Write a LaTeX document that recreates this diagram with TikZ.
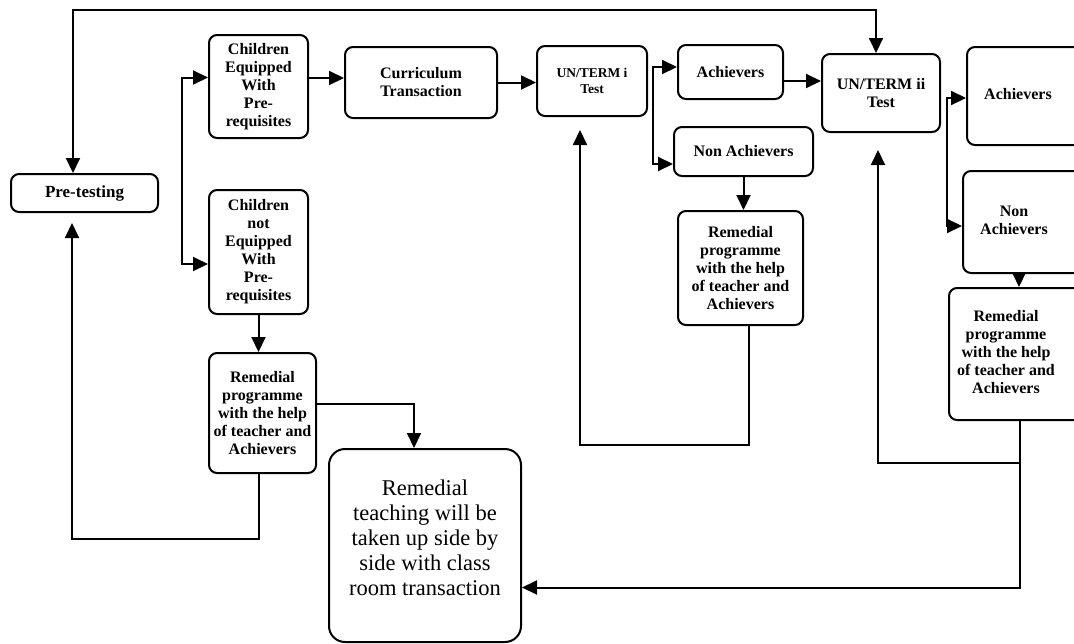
\documentclass[tikz,border=0pt]{standalone}
\usepackage{fontspec}
\setmainfont{Liberation Serif}
\usetikzlibrary{arrows.meta}

\newcommand{\rightspill}[2]{\begin{tabular}{@{}c@{}}#2\end{tabular}\hspace*{#1}}

\begin{document}
\begin{tikzpicture}[x=1pt,y=-1pt]
    \pgfmathsetmacro{\linewd}{2}
    \pgfmathsetmacro{\boxradius}{8}
    \pgfmathsetmacro{\bigradius}{16}
    \providecommand{\boxfont}{\fontsize{16}{18}\selectfont\bfseries}
    \providecommand{\testfont}{\fontsize{13.5}{16}\selectfont\bfseries}
    \providecommand{\bigfont}{\fontsize{22.5}{25}\selectfont}
    \tikzset{
      flowbox/.style={draw, line width=\linewd pt, rounded corners=\boxradius pt, align=center, inner sep=2pt, anchor=north west, font=\boxfont},
      flowarrow/.style={line width=\linewd pt, -{Triangle[length=15pt,width=14pt]}},
      flowfork/.style={line width=\linewd pt, {Triangle[length=15pt,width=14pt]}-{Triangle[length=15pt,width=14pt]}}
    }
    \useasboundingbox (0,0) rectangle (1074,643);
    \clip (0,0) rectangle (1074,643);
    % left part
    \node[flowbox, minimum width=147pt, minimum height=38pt, font=\fontsize{17}{19}\selectfont\bfseries] (pretest) at (10,173) {Pre-testing};
    \node[flowbox, minimum width=99pt, minimum height=103pt] (equip) at (208,34) {Children\\Equipped\\With\\Pre-\\requisites};
    \node[flowbox, minimum width=99pt, minimum height=124pt] (notequip) at (208,189) {Children\\not\\Equipped\\With\\Pre-\\requisites};
    \node[flowbox, minimum width=107pt, minimum height=120pt] (remedy0) at (208,352) {Remedial\\programme\\with the help\\of teacher and\\Achievers};
    \node[flowbox, minimum width=192pt, minimum height=193pt, rounded corners=\bigradius pt, font=\bigfont] (teach) at (328,448) {Remedial\\teaching will be\\taken up side by\\side with class\\room transaction\\[-9pt]};
    \node[flowbox, minimum width=152pt, minimum height=71pt] (curric) at (344,46) {Curriculum\\Transaction};
    % first term
    \node[flowbox, minimum width=110pt, minimum height=70pt, font=\testfont] (term1) at (536,45) {UN/TERM i\\Test};
    \node[flowbox, minimum width=105pt, minimum height=54pt] (ach1) at (677,44) {Achievers};
    \node[flowbox, minimum width=139pt, minimum height=49pt] (nonach1) at (673,126) {Non Achievers};
    \node[flowbox, minimum width=125pt, minimum height=114pt] (remedy1) at (677,210) {Remedial\\programme\\with the help\\of teacher and\\Achievers};
    % second term
    \node[flowbox, minimum width=118pt, minimum height=78pt] (term2) at (821,53) {UN/TERM ii\\Test};
    \node[flowbox, minimum width=140pt, minimum height=98pt] (ach2) at (966,46) {\rightspill{38pt}{Achievers}};
    \node[flowbox, minimum width=140pt, minimum height=102pt] (nonach2) at (962,170) {\rightspill{38pt}{Non\\Achievers}};
    \node[flowbox, minimum width=150pt, minimum height=132pt] (remedy2) at (948,287) {\rightspill{36pt}{Remedial\\programme\\with the help\\of teacher and\\Achievers}};
    \coordinate (topline) at (0,10);
    \coordinate (loop0) at (72,539);
    \coordinate (loop1) at (580,445);
    \coordinate (loop2) at (878,463);
    % connectors
    \draw[flowfork] ([xshift=-11.5pt]pretest.north) -- ([xshift=-11.5pt]pretest.north |- topline) -| ([xshift=-5pt]term2.north);
    \draw[flowarrow, shorten >=10pt] ([xshift=-3.5pt]remedy0.south) |- (loop0) -- (loop0 |- pretest.south);
    \draw[flowfork] ([yshift=9pt]equip.west) -- ++(-26,0) |- ([yshift=-12pt]notequip.west);
    \draw[flowarrow] (notequip.south) -- (notequip.south |- remedy0.north);
    \draw[flowarrow] ([yshift=9pt]remedy0.east) -| ([xshift=-11pt]teach.north);
    \draw[flowarrow] ([yshift=8.5pt]equip.east) -- ([yshift=8.5pt]equip.east -| curric.west);
    \draw[flowarrow] (curric.east) -- (curric.east -| term1.west);
    \draw[flowfork] ([yshift=5pt]ach1.west) -- ++(-24,0) |- ([yshift=-12.5pt]nonach1.west);
    \draw[flowarrow] ([yshift=-9pt]ach1.east) -- ([yshift=-9pt]ach1.east -| term2.west);
    \draw[flowarrow] (nonach1.south) -- (nonach1.south |- remedy1.north);
    \draw[flowarrow, shorten >=13pt] ([xshift=8pt]remedy1.south) |- (loop1) -- (loop1 |- term1.south);
    \draw[flowfork] ([yshift=-2pt]ach2.west) -- ++(-19,0) |- ([yshift=-4pt]nonach2.west);
    \draw[flowarrow] ([xshift=-14pt]nonach2.south) -- ([xshift=-14pt]nonach2.south |- remedy2.north);
    \draw[flowarrow, shorten >=17pt] ([xshift=-4pt]remedy2.south) |- (loop2) -- (loop2 |- term2.south);
    \draw[flowarrow] ([xshift=-4pt]remedy2.south) |- ([yshift=-42pt]teach.east);
\end{tikzpicture}
\end{document}
